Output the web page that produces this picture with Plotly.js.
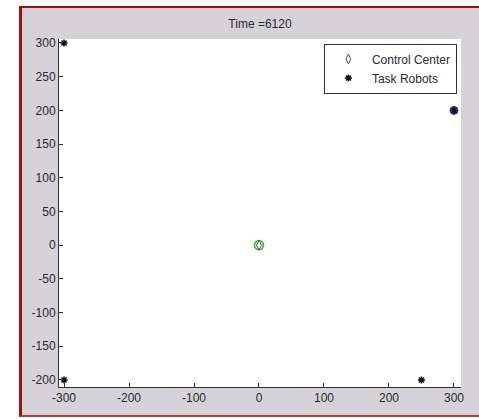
<!DOCTYPE html>
<html>
<head>
<meta charset="utf-8">
<script src="https://cdn.plot.ly/plotly-3.0.1.min.js"></script>
<style>
  html, body { margin: 0; padding: 0; background: #ffffff; width: 479px; height: 419px; overflow: hidden; }
  #frame { position: absolute; left: 19px; top: 6px; width: 460px; height: 411px;
           border-left: 3px solid #a3100f; border-top: 2px solid #a3100f; border-bottom: 2px solid #b04040;
           box-sizing: border-box; background: #d5d3d7; }
  #chart { position: absolute; left: 0; top: 0; width: 457px; height: 407px; }
</style>
</head>
<body>
<div id="frame"><div id="chart"></div></div>
<script>
// Data
var titleText = "Time =6120";
var controlX = [0];
var controlY = [0];
var robotX = [-300, -300, 250, 300];
var robotY = [300, -200, -200, 200];
var targetX = [300];
var targetY = [200];
var xTicks = [-300, -200, -100, 0, 100, 200, 300];
var yTicks = [-200, -150, -100, -50, 0, 50, 100, 150, 200, 250, 300];

var font = "Liberation Sans, Arial, Helvetica, sans-serif";

var traces = [
  { x: controlX, y: controlY, type: "scatter", mode: "markers", name: "ring", showlegend: false,
    marker: { symbol: "circle-open", size: 9, color: "#45b94a", line: { width: 1.8, color: "#45b94a" } }, hoverinfo: "skip" },
  { x: targetX, y: targetY, type: "scatter", mode: "markers", name: "target", showlegend: false,
    marker: { symbol: "circle", size: 8, color: "#5a50b0", line: { width: 1, color: "#3a3590" } }, hoverinfo: "skip" },
  { x: controlX, y: controlY, type: "scatter", mode: "markers", name: "Control Center",
    marker: { symbol: "diamond-tall-open", size: 7, color: "#555555", line: { width: 1, color: "#555555" } } },
  { x: robotX, y: robotY, type: "scatter", mode: "markers", name: "Task Robots",
    marker: { symbol: "asterisk-open", size: 6, color: "#111111", line: { width: 1.5, color: "#111111" } } }
];

var layout = {
  width: 457, height: 407,
  margin: { l: 37, r: 18, t: 31, b: 28, pad: 0 },
  paper_bgcolor: "#d5d3d7",
  plot_bgcolor: "#ffffff",
  font: { family: font, size: 12, color: "#2a2a2a" },
  title: { text: titleText, font: { family: font, size: 12, color: "#2a2a2a" },
           x: 0.5, xref: "paper", xanchor: "center", y: 1 - 16 / 407, yref: "container", yanchor: "middle" },
  xaxis: { range: [-307.7, 310.8], tickmode: "array", tickvals: xTicks, ticktext: xTicks.map(String),
           ticks: "inside", ticklen: 4, tickwidth: 1, tickcolor: "#333333",
           showline: true, linecolor: "#333333", linewidth: 1, mirror: false,
           showgrid: false, zeroline: false, tickfont: { family: font, size: 12, color: "#2a2a2a" } },
  yaxis: { range: [-210.4, 305.9], tickmode: "array", tickvals: yTicks, ticktext: yTicks.map(String),
           ticks: "inside", ticklen: 4, tickwidth: 1, tickcolor: "#333333",
           showline: true, linecolor: "#333333", linewidth: 1, mirror: false,
           showgrid: false, zeroline: false, tickfont: { family: font, size: 12, color: "#2a2a2a" } },
  legend: { x: 0.659, y: 0.987, xanchor: "left", yanchor: "top", bgcolor: "#ffffff",
            bordercolor: "#333333", borderwidth: 1, font: { family: font, size: 12, color: "#2a2a2a" },
            itemwidth: 37, tracegroupgap: 0 },
  showlegend: true
};

Plotly.newPlot("chart", traces, layout, { displayModeBar: false, staticPlot: true });
</script>
</body>
</html>
